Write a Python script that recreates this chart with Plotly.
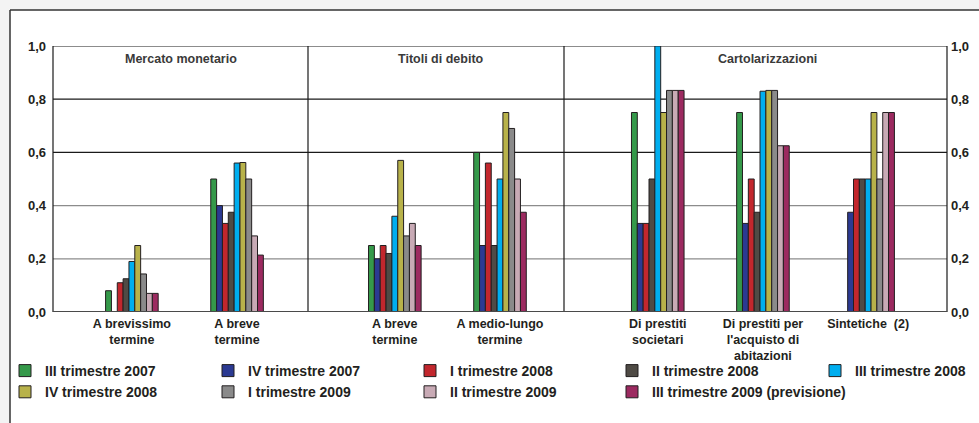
import plotly.graph_objects as go

# ---- data -----------------------------------------------------------------
categories = [
    "A brevissimo<br>termine",
    "A breve<br>termine",
    "A breve<br>termine",
    "A medio-lungo<br>termine",
    "Di prestiti<br>societari",
    "Di prestiti per<br>l'acquisto di<br>abitazioni",
    "Sintetiche  (2)",
]
panel_titles = ["Mercato monetario", "Titoli di debito", "Cartolarizzazioni"]
series_names = [
    "III trimestre 2007", "IV trimestre 2007", "I trimestre 2008",
    "II trimestre 2008", "III trimestre 2008", "IV trimestre 2008",
    "I trimestre 2009", "II trimestre 2009", "III trimestre 2009 (previsione)",
]
q3_2007 = [0.08, 0.50, 0.25, 0.60, 0.75, 0.75, None]
q4_2007 = [None, 0.40, 0.20, 0.25, 0.333, 0.333, 0.375]
q1_2008 = [0.11, 0.333, 0.25, 0.56, 0.333, 0.50, 0.50]
q2_2008 = [0.125, 0.375, 0.22, 0.25, 0.50, 0.375, 0.50]
q3_2008 = [0.19, 0.56, 0.36, 0.50, 1.00, 0.83, 0.50]
q4_2008 = [0.25, 0.562, 0.57, 0.75, 0.75, 0.833, 0.75]
q1_2009 = [0.143, 0.50, 0.286, 0.69, 0.833, 0.833, 0.50]
q2_2009 = [0.07, 0.286, 0.333, 0.50, 0.833, 0.625, 0.75]
q3_2009 = [0.07, 0.214, 0.25, 0.375, 0.833, 0.625, 0.75]
y_ticks = [0.0, 0.2, 0.4, 0.6, 0.8, 1.0]

series_values = [q3_2007, q4_2007, q1_2008, q2_2008, q3_2008,
                 q4_2008, q1_2009, q2_2009, q3_2009]

# ---- layout constants -----------------------------------------------------
W, H = 979, 423
ML, MR, MT, MB = 53, 32, 46, 111
PW, PH = W - ML - MR, H - MT - MB
N_SLOTS = 17
SLOTS = [1, 3, 6, 8, 11, 13, 15]          # slot index of each category group
xpos = [s + 0.5 for s in SLOTS]

colors = ["#35994a", "#2b3a92", "#c2272d", "#4f4b45", "#00aeef",
          "#b8b24a", "#8a8a8a", "#c8aab5", "#9c2a60"]
INK = "#231f20"
FONT = "Liberation Sans, Arial, sans-serif"


def px_x(p):
    return (p - ML) / PW


def px_y(p):
    return (H - MB - p) / PH


fig = go.Figure()

for i, (name, vals) in enumerate(zip(series_names, series_values)):
    col = i % 5
    fig.add_trace(go.Bar(
        x=xpos, y=vals, name=name,
        marker=dict(color=colors[i], line=dict(color=INK, width=1)),
        legend="legend" if col == 0 else f"legend{col + 1}",
    ))

# light margin strips outside the card, then its top and left rules
shapes = [
    dict(type="rect", xref="paper", yref="paper", layer="below",
         x0=px_x(0), x1=px_x(W), y0=px_y(0), y1=px_y(10),
         fillcolor="#f3f3f3", line=dict(width=0)),
    dict(type="rect", xref="paper", yref="paper", layer="below",
         x0=px_x(0), x1=px_x(10), y0=px_y(0), y1=px_y(H),
         fillcolor="#f3f3f3", line=dict(width=0)),
    dict(type="line", xref="paper", yref="paper", layer="below",
         x0=px_x(10), x1=px_x(W), y0=px_y(10), y1=px_y(10),
         line=dict(color="#333333", width=1.5)),
    dict(type="line", xref="paper", yref="paper", layer="below",
         x0=px_x(10), x1=px_x(10), y0=px_y(10), y1=px_y(H),
         line=dict(color="#333333", width=1.5)),
]
# horizontal grid
grid_colors = {0.2: "#8c8c8c", 0.4: "#8c8c8c", 0.6: "#1a1a1a", 0.8: "#1a1a1a", 1.0: "#1a1a1a"}
for v, c in grid_colors.items():
    shapes.append(dict(type="line", xref="paper", yref="y", layer="below",
                       x0=0, x1=1, y0=v, y1=v, line=dict(color=c, width=1.2)))
# plot box sides and panel dividers
for xp in (0, 1, px_x(308), px_x(564)):
    shapes.append(dict(type="line", xref="paper", yref="y", layer="below",
                       x0=xp, x1=xp, y0=0, y1=1, line=dict(color="#1a1a1a", width=1.2)))
# baseline
shapes.append(dict(type="line", xref="paper", yref="y", layer="above",
                   x0=0, x1=1, y0=0, y1=0, line=dict(color="#4a4a4a", width=2)))

tickfont = dict(family=FONT, size=13, color=INK, weight="bold")
legend_font = dict(family=FONT, size=14, color=INK, weight="bold")

annotations = []
for title, cx in zip(panel_titles, (180.5, 441, 767)):
    annotations.append(dict(
        text=title, xref="paper", yref="paper", x=px_x(cx), y=px_y(59),
        showarrow=False, xanchor="center", yanchor="middle",
        font=dict(family=FONT, size=12.5, color="#3a3a3a", weight="bold"),
    ))
# right-hand value scale
for v in y_ticks:
    annotations.append(dict(
        text=f"{v:.1f}".replace(".", ","), xref="paper", yref="y", x=1, y=v,
        xshift=2, showarrow=False, xanchor="left", yanchor="middle",
        font=tickfont,
    ))

layout = dict(
    width=W, height=H, autosize=False,
    margin=dict(l=ML, r=MR, t=MT, b=MB, pad=0, autoexpand=False),
    paper_bgcolor="white", plot_bgcolor="rgba(0,0,0,0)",
    separators=",.",
    barmode="group", bargap=0.5, bargroupgap=0,
    xaxis=dict(range=[0, N_SLOTS], tickmode="array", tickvals=xpos,
               ticktext=categories, showgrid=False, zeroline=False,
               showline=False, ticks="", tickangle=0, automargin=False,
               tickfont=dict(family=FONT, size=12.5, color=INK, weight="bold"),
               ticklabelstandoff=2),
    yaxis=dict(range=[0, 1], tickmode="array", tickvals=y_ticks,
               tickformat=".1f", showgrid=False, zeroline=False,
               showline=False, ticks="", tickfont=tickfont, automargin=False,
               ticklabelstandoff=6),
    shapes=shapes, annotations=annotations,
    showlegend=True,
)

text_starts = [45, 248, 450, 652, 855]
for k, tx in enumerate(text_starts):
    key = "legend" if k == 0 else f"legend{k + 1}"
    layout[key] = dict(
        xref="container", yref="container",
        x=(tx - 40) / W, y=1 - 355 / H, xanchor="left", yanchor="top",
        orientation="v", bgcolor="rgba(0,0,0,0)", borderwidth=0,
        font=legend_font, tracegroupgap=0, itemclick=False,
    )

fig.update_layout(**layout)

# keep the page exactly the size of the figure (no scrollbars)
page_css = (
    "var s=document.createElement('style');"
    "s.textContent='html,body{margin:0!important;padding:0!important;"
    "overflow:hidden!important;width:979px;height:423px}"
    "::-webkit-scrollbar{display:none;width:0;height:0}';"
    "document.head.appendChild(s);"
)
fig.write_html("out.html", post_script=page_css, config={"displayModeBar": False})
